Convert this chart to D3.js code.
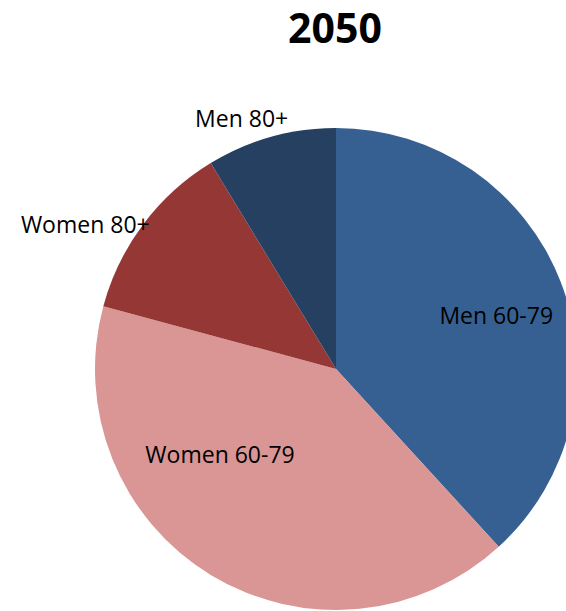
<!DOCTYPE html>
<html>
<head>
<meta charset="utf-8">
<script src="https://cdn.jsdelivr.net/npm/d3@7"></script>
<style>
html,body{margin:0;padding:0;background:#fff;overflow:hidden;}
svg{display:block;}
</style>
</head>
<body>
<svg id="chart" width="566" height="611"></svg>
<script>
const title = "2050";
const categories = ["Men 60-79", "Women 60-79", "Women 80+", "Men 80+"];
const values = [38.2, 41.0, 12.1, 8.7];
const colors = ["#376092", "#D99694", "#953735", "#254061"];
// label placement (layout): angle offset in degrees from slice middle, radius factor
const labelAngleOffset = [3, 22, -7, -5];
const labelRadiusFactor = [0.70, 0.60, 1.20, 1.11];

const width = 566, height = 611;
const cx = 336, cy = 369, radius = 241;
const svg = d3.select("#chart");

svg.append("text")
  .attr("x", 335).attr("y", 43)
  .attr("text-anchor", "middle")
  .attr("font-family", "Open Sans, sans-serif")
  .attr("font-weight", "bold")
  .attr("font-size", 41)
  .attr("fill", "#000")
  .text(title);

const data = categories.map((c, i) => ({cat: c, value: values[i], color: colors[i], i}));
const pie = d3.pie().sort(null).value(d => d.value);
const arcs = pie(data);
const arc = d3.arc().innerRadius(0).outerRadius(radius);

const g = svg.append("g").attr("transform", `translate(${cx},${cy})`);
g.selectAll("path").data(arcs).enter().append("path")
  .attr("d", arc)
  .attr("fill", d => d.data.color);

g.selectAll("text.lbl").data(arcs).enter().append("text")
  .attr("class", "lbl")
  .attr("transform", d => {
    const mid = (d.startAngle + d.endAngle) / 2 + labelAngleOffset[d.data.i] * Math.PI / 180;
    const r = radius * labelRadiusFactor[d.data.i];
    return `translate(${Math.sin(mid) * r},${-Math.cos(mid) * r})`;
  })
  .attr("text-anchor", "middle")
  .attr("dy", "0.35em")
  .attr("font-family", "Open Sans, sans-serif")
  .attr("font-size", 23)
  .attr("fill", "#000")
  .text(d => d.data.cat);
</script>
</body>
</html>
